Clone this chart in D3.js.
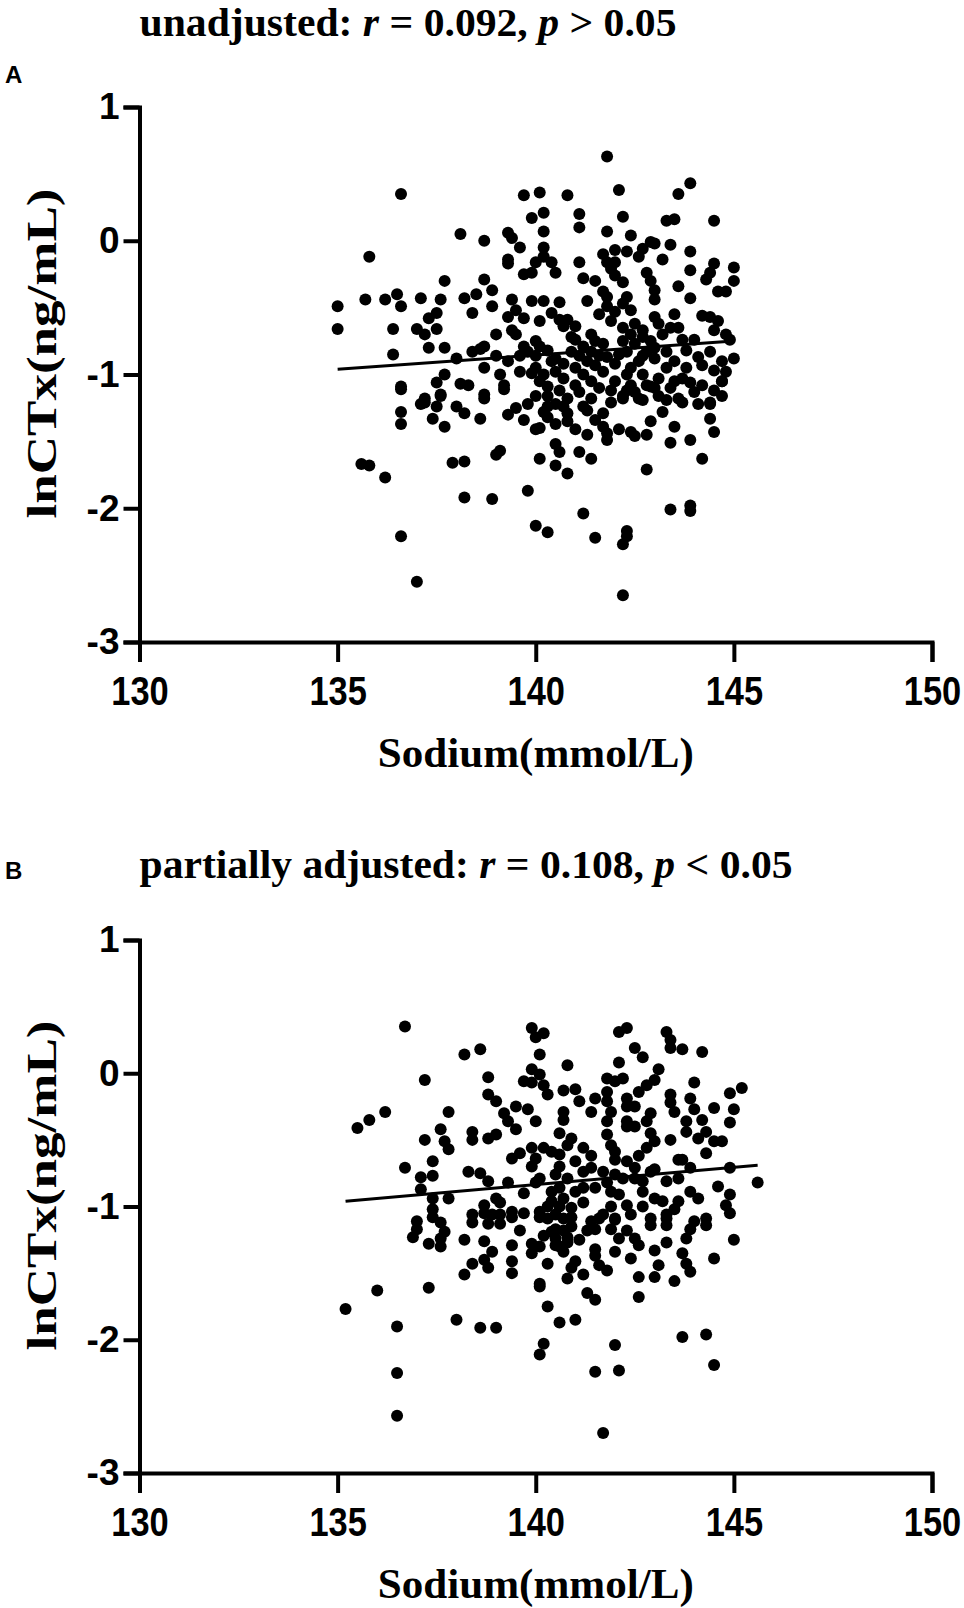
<!DOCTYPE html>
<html>
<head>
<meta charset="utf-8">
<script src="https://cdn.jsdelivr.net/npm/d3@7"></script>
<style>
  body { margin: 0; background: #fff; }
  svg { display: block; }
</style>
</head>
<body>
<div id="chart"></div>
<script>
// axis ticks
const xTicks = [130, 135, 140, 145, 150];
const yTicks = [1, 0, -1, -2, -3];

// panel titles
const titleA = ["unadjusted: ", "r", " = 0.092, ", "p", " > 0.05"];
const titleB = ["partially adjusted: ", "r", " = 0.108, ", "p", " < 0.05"];

// fitted lines [sodium, lnCTx]
const fitA = [[135.0, -0.96], [145.0, -0.75]];
const fitB = [[135.2, -0.96], [145.6, -0.69]];

// panel A points [sodium, lnCTx]
const pointsA = [
  [141.8,0.63],[136.6,0.35],[139.7,0.34],[140.1,0.36],[140.8,0.34],[142.1,0.38],[143.6,0.35],[143.9,0.43],
  [140.2,0.21],[139.9,0.17],[141.1,0.2],[142.2,0.18],[143.3,0.15],[143.5,0.16],[144.5,0.15],
  [141.1,0.1],[140.2,0.07],[141.8,0.07],[142.4,0.04],[138.1,0.05],[138.7,0.0],[139.3,0.06],[139.4,0.02],[139.6,-0.05],
  [143.0,-0.02],[143.4,-0.03],[135.8,-0.12],[140.2,-0.05],
  [140.2,-0.12],[140.0,-0.16],[140.4,-0.16],[140.5,-0.24],[139.7,-0.25],[139.9,-0.24],[139.3,-0.14],[139.3,-0.17],[141.1,-0.16],[141.2,-0.28],
  [141.7,-0.1],[142.0,-0.07],[142.3,-0.08],[142.6,-0.12],[142.7,-0.06],[142.9,-0.01],[143.2,-0.14],[143.9,-0.08],[143.9,-0.22],
  [144.5,-0.17],[145.0,-0.2],[144.4,-0.24],[144.3,-0.29],[144.6,-0.38],[144.8,-0.38],[145.0,-0.3],
  [141.9,-0.21],[142.0,-0.26],[142.2,-0.31],[142.0,-0.16],[141.8,-0.16],
  [142.8,-0.24],[142.9,-0.3],[143.0,-0.37],[143.0,-0.44],[143.6,-0.34],[143.9,-0.43],
  [141.5,-0.3],[141.7,-0.38],[141.8,-0.42],[141.3,-0.45],[141.8,-0.49],[142.0,-0.53],
  [142.3,-0.42],[142.2,-0.47],[142.4,-0.52],[142.5,-0.62],[142.7,-0.67],[143.0,-0.57],[143.1,-0.62],
  [144.2,-0.56],[144.4,-0.57],[144.6,-0.6],[144.5,-0.67],[144.8,-0.7],[144.9,-0.74],
  [143.4,-0.65],[143.6,-0.65],[143.7,-0.74],[144.0,-0.74],[145.0,-0.88],[144.1,-0.87],[144.2,-0.93],[144.7,-0.9],[144.5,-0.97],[144.7,-1.05],
  [135.0,-0.49],[135.0,-0.66],[135.7,-0.44],[136.2,-0.44],[136.5,-0.4],[136.6,-0.49],[136.4,-0.66],[136.4,-0.85],
  [137.1,-0.43],[137.0,-0.66],[137.2,-0.7],[137.3,-0.58],[137.5,-0.54],[137.6,-0.44],[137.7,-0.3],[137.5,-0.66],[137.3,-0.8],[137.7,-0.8],[138.0,-0.88],
  [138.2,-0.43],[138.5,-0.4],[138.4,-0.54],[138.7,-0.29],[138.9,-0.37],[138.9,-0.49],[139.0,-0.7],[138.4,-0.83],[138.6,-0.81],[138.7,-0.79],[139.0,-0.86],
  [139.4,-0.44],[139.5,-0.52],[139.3,-0.57],[139.7,-0.58],[139.4,-0.67],[139.5,-0.7],
  [139.9,-0.45],[140.2,-0.45],[140.6,-0.46],[140.4,-0.54],[140.6,-0.59],[140.7,-0.64],[140.8,-0.59],[141.0,-0.64],[140.9,-0.72],
  [141.4,-0.7],[141.5,-0.75],[141.2,-0.79],[141.7,-0.77],
  [142.2,-0.65],[142.4,-0.7],[142.2,-0.75],[142.5,-0.77],[142.7,-0.72],[142.9,-0.75],[143.2,-0.7],[142.8,-0.83],
  [139.7,-0.79],[140.0,-0.75],[140.1,-0.79],[139.8,-0.83],[139.6,-0.86],[140.0,-0.86],[140.3,-0.82],[140.5,-0.88],[140.9,-0.83],
  [141.1,-0.86],[141.4,-0.83],[141.8,-0.87],[142.1,-0.85],[142.3,-0.83],[142.7,-0.86],[143.3,-0.83],[144.4,-0.83],
  [139.6,-0.98],[140.0,-0.95],[136.6,-1.11],[137.5,-1.06],[137.7,-1.0],[138.1,-1.07],[138.3,-1.08],[139.2,-1.11],[138.7,-1.18],[137.2,-1.21],[137.6,-1.16],
  [139.9,-0.99],[140.1,-1.05],[140.5,-0.98],[140.7,-1.03],[141.0,-1.08],[141.2,-1.0],[141.5,-0.93],[141.7,-0.98],[142.0,-1.05],[142.2,-1.16],
  [142.4,-1.08],[142.7,-1.0],[142.8,-1.08],[143.1,-1.03],[143.3,-0.95],[143.5,-1.05],[143.7,-1.03],[144.0,-1.13],[144.2,-1.08],[144.7,-1.16],[144.8,-0.98],
  [140.3,-1.16],[140.8,-1.18],[141.4,-1.18],[141.9,-1.21],[142.6,-1.18],[143.1,-1.16],[143.7,-1.21],[144.4,-1.21],
  [140.4,-0.9],[140.7,-0.92],[141.0,-0.95],[141.3,-0.9],[141.6,-0.86],[142.0,-0.92],[142.4,-0.95],[142.6,-0.9],[143.0,-0.88],[143.5,-0.9],
  [143.8,-0.95],[140.2,-1.0],[141.1,-1.13],[141.6,-1.1],[142.3,-1.0],[143.0,-1.1],[143.4,-1.1],[140.6,-1.12],[141.4,-1.05],[142.5,-1.13],
  [139.3,-0.9],[139.1,-1.0],[138.7,-0.95],[141.0,-0.74],[143.0,-0.8],[143.8,-0.82],[141.9,-0.6],[141.6,-0.55],[143.5,-0.55],[140.1,-0.6],
  [136.6,-1.09],[136.6,-1.28],[136.6,-1.37],[137.1,-1.22],[137.2,-1.18],[137.4,-1.33],[137.5,-1.24],[137.6,-1.15],[137.7,-1.39],[138.0,-1.24],
  [138.2,-1.29],[138.6,-1.33],[138.7,-1.15],[139.2,-1.08],[139.3,-1.3],[139.5,-1.25],[139.7,-1.34],[139.8,-1.22],[140.0,-1.16],[140.0,-1.41],[140.1,-1.4],
  [140.2,-1.28],[140.3,-1.24],[140.5,-1.22],[140.3,-1.09],[140.3,-1.32],[140.5,-1.37],[140.7,-1.24],[140.8,-1.29],[140.8,-1.35],[141.0,-1.41],
  [141.2,-1.24],[141.3,-1.27],[141.5,-1.34],[141.7,-1.29],[141.7,-1.39],[141.8,-1.49],[141.8,-1.44],[141.3,-1.45],
  [141.9,-1.12],[142.2,-1.18],[142.3,-1.12],[142.1,-1.41],[142.4,-1.43],[142.5,-1.46],[142.7,-1.19],[142.9,-1.09],[142.8,-1.45],[142.9,-1.35],
  [143.2,-1.28],[143.3,-1.19],[143.6,-1.18],[143.5,-1.39],[143.4,-1.51],[143.9,-1.06],[144.1,-1.22],[144.4,-1.22],[143.9,-1.49],[144.4,-1.33],
  [144.5,-1.43],[144.5,-1.12],[144.7,-1.05],
  [144.2,-1.63],[142.8,-1.71],[140.5,-1.52],[140.6,-1.58],[140.1,-1.63],[140.5,-1.68],[140.8,-1.74],[141.1,-1.58],[141.4,-1.63],[139.0,-1.6],
  [139.1,-1.57],[137.9,-1.66],[138.2,-1.65],[135.6,-1.67],[135.8,-1.68],[136.2,-1.77],
  [138.2,-1.92],[138.9,-1.93],[139.8,-1.87],[140.0,-2.13],[140.3,-2.18],[141.2,-2.04],[141.5,-2.22],[142.2,-2.27],[142.3,-2.21],[142.3,-2.17],
  [143.4,-2.01],[143.9,-1.98],[143.9,-2.02],[136.6,-2.21],[137.0,-2.55],[142.2,-2.65]
];

// panel B points [sodium, lnCTx]
const pointsB = [
  [136.7,0.35],[139.9,0.34],[140.0,0.27],[140.2,0.3],[142.1,0.31],[142.3,0.34],[143.3,0.31],[143.4,0.25],[143.4,0.19],[143.7,0.18],[144.2,0.16],
  [138.2,0.14],[138.6,0.18],[140.1,0.14],[142.5,0.19],[142.7,0.12],[140.8,0.06],[142.1,0.08],[137.2,-0.05],[138.8,-0.03],
  [139.9,0.03],[140.1,-0.01],[139.7,-0.06],[139.9,-0.07],[140.2,-0.09],[140.3,-0.16],
  [141.8,-0.04],[142.0,-0.06],[142.2,-0.04],[143.1,0.03],[143.0,-0.05],[142.8,-0.09],[142.6,-0.14],[144.0,-0.07],[144.9,-0.15],[145.2,-0.11],
  [140.7,-0.13],[141.0,-0.12],[141.1,-0.21],[141.5,-0.19],[141.8,-0.14],[141.8,-0.21],[141.9,-0.29],[141.8,-0.36],[141.4,-0.29],
  [142.3,-0.19],[142.3,-0.25],[142.5,-0.25],[143.4,-0.16],[143.4,-0.22],[143.5,-0.29],[143.9,-0.19],[144.0,-0.27],[144.5,-0.26],[145.0,-0.27],
  [138.8,-0.16],[139.0,-0.21],[139.2,-0.3],[139.5,-0.25],[139.8,-0.27],[140.7,-0.29],[140.7,-0.35],[142.9,-0.3],[142.8,-0.36],[143.8,-0.36],[144.2,-0.35],[144.9,-0.37],
  [136.2,-0.29],[135.8,-0.35],[135.5,-0.41],[137.8,-0.29],[137.6,-0.42],[137.7,-0.51],[137.8,-0.57],[137.2,-0.5],[137.4,-0.66],[137.4,-0.77],[136.7,-0.71],[137.1,-0.78],
  [138.4,-0.44],[138.4,-0.5],[138.8,-0.49],[139.0,-0.46],[139.3,-0.36],[139.5,-0.42],[140.0,-0.36],[140.6,-0.45],[140.9,-0.49],[141.2,-0.56],
  [141.8,-0.46],[141.9,-0.54],[142.0,-0.59],[142.0,-0.65],[142.3,-0.36],[142.5,-0.4],[142.3,-0.4],
  [142.9,-0.45],[143.0,-0.51],[142.8,-0.56],[142.6,-0.62],[142.3,-0.66],[142.5,-0.71],
  [143.4,-0.5],[143.8,-0.44],[144.1,-0.49],[144.3,-0.44],[144.5,-0.51],[144.7,-0.51],[144.3,-0.6],[143.6,-0.65],[143.7,-0.65],
  [139.4,-0.64],[139.6,-0.6],[139.9,-0.56],[140.0,-0.64],[139.9,-0.7],[140.2,-0.56],[140.4,-0.59],[140.6,-0.61],[140.8,-0.54],[141.0,-0.66],
  [138.3,-0.74],[138.6,-0.75],[138.8,-0.81],[139.3,-0.82],
  [140.1,-0.79],[140.5,-0.76],[140.8,-0.79],[141.2,-0.74],[141.4,-0.71],[141.7,-0.74],[142.0,-0.76],[142.2,-0.79],[142.5,-0.79],[142.7,-0.81],
  [142.9,-0.74],[143.3,-0.81],[143.6,-0.79],[143.9,-0.71],[144.6,-0.85],[144.9,-0.71],[144.9,-0.91],[145.6,-0.82],
  [137.1,-0.87],[137.4,-0.94],[137.8,-0.94],[137.4,-1.02],
  [138.4,-1.06],[138.7,-0.99],[139.0,-0.94],[139.1,-0.97],[138.9,-1.06],[139.1,-1.06],[139.4,-1.04],
  [140.4,-0.89],[140.4,-0.96],[140.6,-0.86],[140.7,-0.94],[140.9,-1.01],[141.0,-0.89],[141.2,-0.86],[141.5,-0.86],[141.9,-0.89],[142.1,-0.91],
  [142.3,-0.99],[142.7,-0.89],[143.0,-0.94],[143.2,-0.96],[143.3,-1.06],[143.6,-0.96],[143.9,-0.89],[144.1,-0.94],[144.8,-0.99],
  [140.1,-1.04],[140.5,-1.06],[140.7,-1.09],[141.4,-1.11],[141.7,-1.06],[142.0,-1.09],[142.9,-1.09],[143.3,-1.09],[144.0,-1.11],[144.3,-1.09],
  [140.3,-1.0],[140.6,-1.0],[140.9,-1.15],[141.1,-1.25],[141.2,-0.97],[140.4,-1.19],[140.2,-1.22],[141.9,-1.0],[142.4,-1.06],[142.7,-1.0],
  [143.5,-1.02],[139.7,-1.05],[139.7,-0.9],[140.0,-0.82],[141.8,-0.82],[143.0,-0.72],[140.6,-0.7],[141.4,-0.62],[142.1,-1.24],[139.6,-1.18],
  [137.0,-1.11],[137.6,-1.12],
  [137.4,-1.08],[137.0,-1.17],[136.9,-1.23],[137.3,-1.28],[137.7,-1.19],[137.6,-1.3],[137.6,-1.24],[138.2,-1.25],[138.4,-1.12],[138.7,-1.05],
  [138.7,-1.26],[138.9,-1.34],[138.7,-1.4],[138.8,-1.46],[138.4,-1.43],[138.2,-1.51],[138.8,-1.13],[139.1,-1.13],[139.4,-1.08],[139.4,-1.29],
  [139.4,-1.41],[139.4,-1.5],
  [139.9,-1.28],[140.1,-1.3],[139.9,-1.35],[140.1,-1.6],[140.1,-1.58],[140.3,-1.43],[140.3,-1.75],
  [140.1,-1.08],[140.3,-1.09],[140.5,-1.17],[140.7,-1.18],[140.5,-1.24],[140.5,-1.29],[140.6,-1.3],[140.8,-1.27],[140.7,-1.34],[140.9,-1.08],[140.8,-1.23],
  [141.0,-1.41],[140.9,-1.46],[140.8,-1.54],[141.2,-1.51],
  [141.3,-1.18],[141.5,-1.17],[141.5,-1.32],[141.5,-1.37],[141.6,-1.44],[141.8,-1.48],[141.3,-1.65],[141.5,-1.7],[140.6,-1.87],[141.0,-1.85],
  [142.0,-1.34],[142.4,-1.39],
  [141.6,-1.09],[141.9,-1.17],[142.0,-1.1],[142.3,-1.18],[142.5,-1.24],[142.6,-1.29],[142.9,-1.14],[143.0,-1.33],[143.1,-1.44],[143.3,-1.14],
  [143.3,-1.27],[143.8,-1.24],[143.7,-1.35],[143.9,-1.17],[144.3,-1.14],[143.8,-1.43],[143.9,-1.49],[144.5,-1.39],[145.0,-1.25],[144.9,-1.05],
  [142.6,-1.53],[143.0,-1.53],[143.5,-1.56],[142.6,-1.68],
  [136.0,-1.63],[135.2,-1.77],[136.5,-1.9],[137.3,-1.61],[138.0,-1.85],[138.6,-1.91],[139.0,-1.91],[140.2,-2.03],[140.1,-2.11],
  [142.0,-2.04],[142.1,-2.23],[141.5,-2.24],[143.7,-1.98],[144.3,-1.96],[144.5,-2.19],[136.5,-2.25],[136.5,-2.57],[141.7,-2.7]
];

const width = 964, height = 1608;
const svg = d3.select("#chart").append("svg")
  .attr("width", width)
  .attr("height", height);

const panels = [
  { letter: "A", title: titleA, titleLen: 537, points: pointsA, fit: fitA,
    top: 107, bottom: 642, titleY: 36, letterY: 83 },
  { letter: "B", title: titleB, titleLen: 653, points: pointsB, fit: fitB,
    top: 940, bottom: 1473, titleY: 878, letterY: 879 }
];

const left = 139.5, right = 932;
const serif = "Liberation Serif, Times New Roman, serif";
const sans = "Liberation Sans, Arial, sans-serif";

panels.forEach(p => {
  const x = d3.scaleLinear().domain([130, 150]).range([left, right]);
  const y = d3.scaleLinear().domain([-3, 1]).range([p.bottom, p.top]);

  // panel letter
  svg.append("text")
    .attr("x", 5)
    .attr("y", p.letterY)
    .attr("font-family", sans)
    .attr("font-weight", "bold")
    .attr("font-size", 24)
    .text(p.letter);

  // title with italic r and p
  const t = svg.append("text")
    .attr("x", left)
    .attr("y", p.titleY)
    .attr("font-family", serif)
    .attr("font-weight", "bold")
    .attr("font-size", 39)
    .attr("textLength", p.titleLen)
    .attr("lengthAdjust", "spacingAndGlyphs");
  p.title.forEach((s, i) => {
    t.append("tspan")
      .attr("font-style", (i === 1 || i === 3) ? "italic" : "normal")
      .text(s);
  });

  // x axis
  const gx = svg.append("g")
    .attr("transform", "translate(0," + p.bottom + ")")
    .call(d3.axisBottom(x).tickValues(xTicks).tickSize(20).tickPadding(14).tickFormat(d => String(d)));
  gx.select(".domain").attr("stroke-width", 4);
  gx.selectAll(".tick line").attr("stroke-width", 4);
  // narrow tick labels, squeezed horizontally around the tick
  gx.selectAll(".tick text")
    .attr("font-family", sans)
    .attr("font-weight", "bold")
    .attr("font-size", 41)
    .attr("transform", "scale(0.84,1)");

  // y axis
  const gy = svg.append("g")
    .attr("transform", "translate(" + left + ",0)")
    .call(d3.axisLeft(y).tickValues(yTicks).tickSize(16).tickPadding(4).tickFormat(d => String(d)));
  gy.select(".domain").attr("stroke-width", 4);
  gy.selectAll(".tick line").attr("stroke-width", 4);
  gy.selectAll(".tick text")
    .attr("font-family", sans)
    .attr("font-weight", "bold")
    .attr("font-size", 37);

  // axis titles
  svg.append("text")
    .attr("x", x(140))
    .attr("y", p.bottom + 125)
    .attr("text-anchor", "middle")
    .attr("font-family", serif)
    .attr("font-weight", "bold")
    .attr("font-size", 42)
    .attr("textLength", 316)
    .attr("lengthAdjust", "spacingAndGlyphs")
    .text("Sodium(mmol/L)");

  svg.append("text")
    .attr("transform", "translate(56," + ((p.top + p.bottom) / 2 - 21) + ") rotate(-90)")
    .attr("text-anchor", "middle")
    .attr("font-family", serif)
    .attr("font-weight", "bold")
    .attr("font-size", 43)
    .attr("textLength", 330)
    .attr("lengthAdjust", "spacingAndGlyphs")
    .text("lnCTx(ng/mL)");

  // points
  svg.append("g")
    .selectAll("circle")
    .data(p.points)
    .enter()
    .append("circle")
    .attr("cx", d => x(d[0]))
    .attr("cy", d => y(d[1]))
    .attr("r", 6)
    .attr("fill", "black");

  // fitted line
  svg.append("line")
    .attr("x1", x(p.fit[0][0]))
    .attr("y1", y(p.fit[0][1]))
    .attr("x2", x(p.fit[1][0]))
    .attr("y2", y(p.fit[1][1]))
    .attr("stroke", "black")
    .attr("stroke-width", 3);
});
</script>
</body>
</html>
